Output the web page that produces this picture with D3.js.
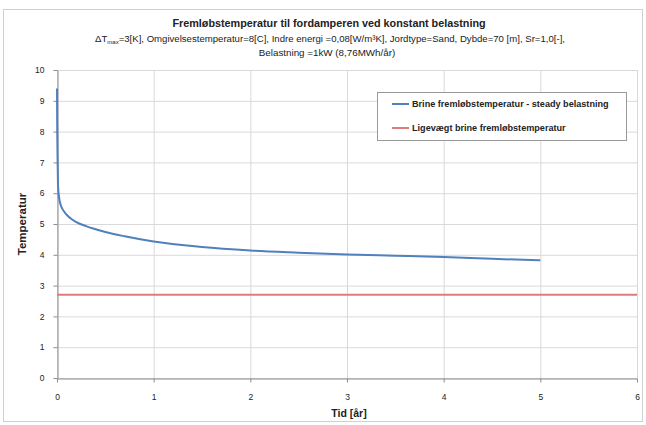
<!DOCTYPE html>
<html>
<head>
<meta charset="utf-8">
<script src="https://d3js.org/d3.v7.min.js"></script>
<style>
body { margin:0; background:white; }
text { font-family: "Liberation Sans", Arial, sans-serif; fill:#222; }
</style>
</head>
<body>
<div id="chart"></div>
<script>
// data
var tid = [0, 0.002, 0.005, 0.01, 0.02, 0.04, 0.07, 0.1, 0.15, 0.2, 0.3, 0.4, 0.5, 0.7, 1.0, 1.5, 2, 2.5, 3, 3.5, 4, 4.5, 5];
var brineTemp = [9.4, 8.2, 7.3, 6.3, 5.9, 5.6, 5.42, 5.3, 5.16, 5.06, 4.93, 4.83, 4.74, 4.6, 4.43, 4.25, 4.14, 4.07, 4.01, 3.97, 3.93, 3.87, 3.82];
var ligevaegt = 2.7;
var xTicks = [0, 1, 2, 3, 4, 5, 6];
var yTicks = [0, 1, 2, 3, 4, 5, 6, 7, 8, 9, 10];
var title = "Fremløbstemperatur til fordamperen ved konstant  belastning";
var subtitle = "=3[K], Omgivelsestemperatur=8[C], Indre energi =0,08[W/m³K], Jordtype=Sand, Dybde=70 [m], Sr=1,0[-],";
var subtitle2 = "Belastning =1kW (8,76MWh/år)";
var seriesNames = ["Brine fremløbstemperatur - steady belastning", "Ligevægt brine fremløbstemperatur"];
var colors = ["#4f81bd", "#e07b7b"];

var width = 646, height = 425;
var m = {left: 57, right: 9, top: 70, bottom: 47};

var svg = d3.select("#chart").append("svg")
  .attr("width", width).attr("height", height);

// chart frame
svg.append("rect").attr("x", 3.5).attr("y", 9.5).attr("width", 639).attr("height", 412)
  .attr("fill", "white").attr("stroke", "#d0d0d0");

var x = d3.scaleLinear().domain([0, 6]).range([m.left, width - m.right]);
var y = d3.scaleLinear().domain([0, 10]).range([height - m.bottom, m.top]);

// gridlines
svg.append("g").selectAll("line").data(yTicks).enter().append("line")
  .attr("x1", x(0)).attr("x2", x(6))
  .attr("y1", d => y(d) + 0.5).attr("y2", d => y(d) + 0.5)
  .attr("stroke", "#d9d9d9");
svg.append("g").selectAll("line").data(xTicks).enter().append("line")
  .attr("y1", y(0)).attr("y2", y(10))
  .attr("x1", d => x(d) + 0.5).attr("x2", d => x(d) + 0.5)
  .attr("stroke", "#d9d9d9");

// axes
var gx = svg.append("g").attr("transform", "translate(0," + (y(0) + 0.5) + ")")
  .call(d3.axisBottom(x).tickValues(xTicks).tickFormat(d3.format("d")).tickSize(4).tickSizeOuter(0));
var gy = svg.append("g").attr("transform", "translate(" + (x(0) + 0.5) + ",0)")
  .call(d3.axisLeft(y).tickValues(yTicks).tickFormat(d3.format("d")).tickSize(4).tickSizeOuter(0));
[gx, gy].forEach(function(g) {
  g.selectAll("path, line").attr("stroke", "#8c8c8c");
  g.selectAll("text").style("font-size", "8.5px").attr("fill", "#333");
});
gx.selectAll("text").attr("dy", "1.75em");
gy.selectAll("text").attr("dx", "-6px");

// series
var line = d3.line().x((d, i) => x(tid[i])).y(d => y(d)).curve(d3.curveMonotoneX);
svg.append("path").datum(brineTemp).attr("d", line)
  .attr("fill", "none").attr("stroke", colors[0]).attr("stroke-width", 2);
svg.append("line").attr("x1", x(0)).attr("x2", x(6))
  .attr("y1", y(ligevaegt)).attr("y2", y(ligevaegt))
  .attr("stroke", colors[1]).attr("stroke-width", 2);

// titles
svg.append("text").attr("x", 329).attr("y", 27).attr("text-anchor", "middle")
  .style("font-size", "10.8px").style("font-weight", "bold").text(title);
var st = svg.append("text").attr("x", 330).attr("y", 42).attr("text-anchor", "middle")
  .style("font-size", "9.6px");
st.append("tspan").text("ΔT");
st.append("tspan").attr("dy", 2).style("font-size", "6px").text("max");
st.append("tspan").attr("dy", -2).text(subtitle);
svg.append("text").attr("x", 327).attr("y", 56).attr("text-anchor", "middle")
  .style("font-size", "9.8px").text(subtitle2);

svg.append("text").attr("x", 349).attr("y", 417).attr("text-anchor", "middle")
  .style("font-size", "10.5px").style("font-weight", "bold").text("Tid [år]");
svg.append("text").attr("transform", "translate(26,224) rotate(-90)").attr("text-anchor", "middle")
  .style("font-size", "11.5px").style("font-weight", "bold").text("Temperatur");

// legend
var lg = svg.append("g");
lg.append("rect").attr("x", 377.5).attr("y", 92.5).attr("width", 249).attr("height", 48)
  .attr("fill", "white").attr("stroke", "#999");
seriesNames.forEach(function(n, i) {
  var ly = 104 + i * 24;
  lg.append("line").attr("x1", 392).attr("x2", 409).attr("y1", ly).attr("y2", ly)
    .attr("stroke", colors[i]).attr("stroke-width", 2);
  lg.append("text").attr("x", 412).attr("y", ly + 3).style("font-size", "9.1px")
    .style("font-weight", "bold").text(n);
});
</script>
</body>
</html>
